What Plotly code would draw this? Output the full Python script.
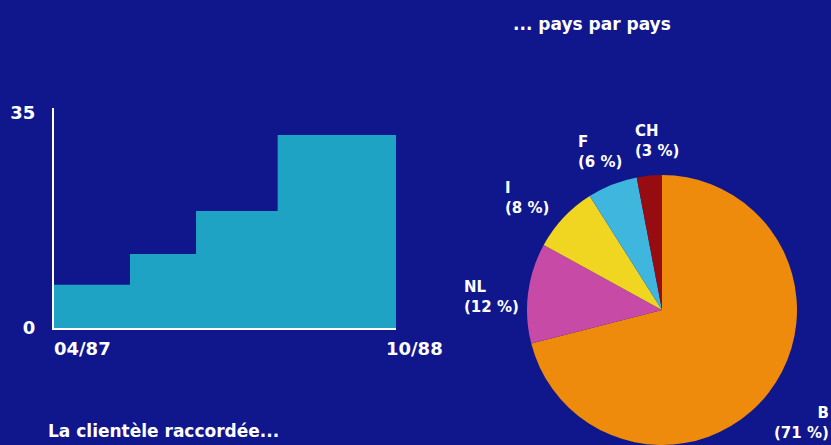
import math
import plotly.graph_objects as go

# ---- data ----
step_dates = ["1987-04-01", "1987-08-01", "1987-11-15", "1988-03-25", "1988-10-01"]
step_values = [7, 12, 19, 31.3, 31.3]
y_ticks = [0, 35]
x_labels = ["04/87", "10/88"]

countries = ["B", "NL", "I", "F", "CH"]
shares = [71, 12, 8, 6, 3]
slice_colors = ["#EE8A0C", "#C64AA6", "#F0D620", "#3EB6DE", "#960C10"]

# ---- style ----
BG = "#10168C"
FONT = "DejaVu Sans, sans-serif"
W, H = 831, 445
label_nudge = {"B": (-2, 3), "NL": (0, 8), "I": (-10, 5), "F": (1, 1), "CH": (11, 2)}

fig = go.Figure()

fig.add_trace(go.Scatter(
    x=step_dates, y=step_values, mode="lines", line_shape="hv",
    line=dict(width=0, color="#1FA3C4"), fill="tozeroy",
    fillcolor="#1FA3C4", hoverinfo="skip", showlegend=False,
))

cx_px, cy_px, R = 662, 310, 135
fig.add_trace(go.Pie(
    labels=countries, values=shares, sort=False, direction="clockwise",
    rotation=0, marker=dict(colors=slice_colors, line=dict(width=0)),
    textinfo="none", hoverinfo="label+percent", showlegend=False,
    automargin=False,
    domain=dict(x=[(cx_px - R) / W, (cx_px + R) / W],
                y=[max(0, (H - cy_px - R) / H), (H - cy_px + R) / H]),
))

annotations = []
cum = 0
total = sum(shares)
for name, v in zip(countries, shares):
    mid = (cum + v / 2) / total * 2 * math.pi
    cum += v
    r = R * (1.33 if name == "B" else 1.27)
    lx = cx_px + r * math.sin(mid) + label_nudge[name][0]
    ly = cy_px - r * math.cos(mid) + label_nudge[name][1]
    annotations.append(dict(
        x=lx / W, y=1 - ly / H, xref="paper", yref="paper",
        text=f"{name}<br>({v} %)", showarrow=False,
        align="right" if name == "B" else "left",
        xanchor="center", yanchor="middle",
        font=dict(family=FONT, size=15, color="white", weight="bold"),
    ))

annotations.append(dict(x=step_dates[0], y=0, xref="x", yref="y", yshift=-20,
                        text=x_labels[0], showarrow=False, xanchor="left",
                        yanchor="middle", xshift=-2,
                        font=dict(family=FONT, size=18, color="white", weight="bold")))
annotations.append(dict(x=step_dates[-1], y=0, xref="x", yref="y", yshift=-20,
                        text=x_labels[1], showarrow=False, xanchor="left",
                        yanchor="middle", xshift=-12,
                        font=dict(family=FONT, size=18, color="white", weight="bold")))
annotations.append(dict(x=592 / W, y=1 - 24 / H, xref="paper", yref="paper",
                        text="... pays par pays", showarrow=False,
                        xanchor="center", yanchor="middle",
                        font=dict(family=FONT, size=17, color="white", weight="bold")))
annotations.append(dict(x=46 / W, y=1 - 431 / H, xref="paper", yref="paper",
                        text="La clientèle raccordée...", showarrow=False,
                        xanchor="left", yanchor="middle",
                        font=dict(family=FONT, size=17, color="white", weight="bold")))

fig.update_layout(
    width=W, height=H, margin=dict(l=0, r=0, t=0, b=0, pad=0, autoexpand=False),
    paper_bgcolor=BG, plot_bgcolor=BG, showlegend=False,
    xaxis=dict(domain=[54 / W, 396 / W], range=[step_dates[0], step_dates[-1]],
               showgrid=False, zeroline=False, showticklabels=False,
               automargin=False,
               showline=True, linecolor="white", linewidth=2, fixedrange=True),
    yaxis=dict(domain=[1 - 328 / H, 1 - 108 / H], range=[0, 35.7],
               tickvals=y_ticks, ticktext=[str(t) for t in y_ticks],
               showgrid=False, zeroline=False, showline=True, automargin=False,
               linecolor="white", linewidth=2, ticks="", ticklabelstandoff=13,
               tickfont=dict(family=FONT, size=18, color="white", weight="bold"),
               fixedrange=True),
    annotations=annotations,
)

fig.write_html("out.html")
